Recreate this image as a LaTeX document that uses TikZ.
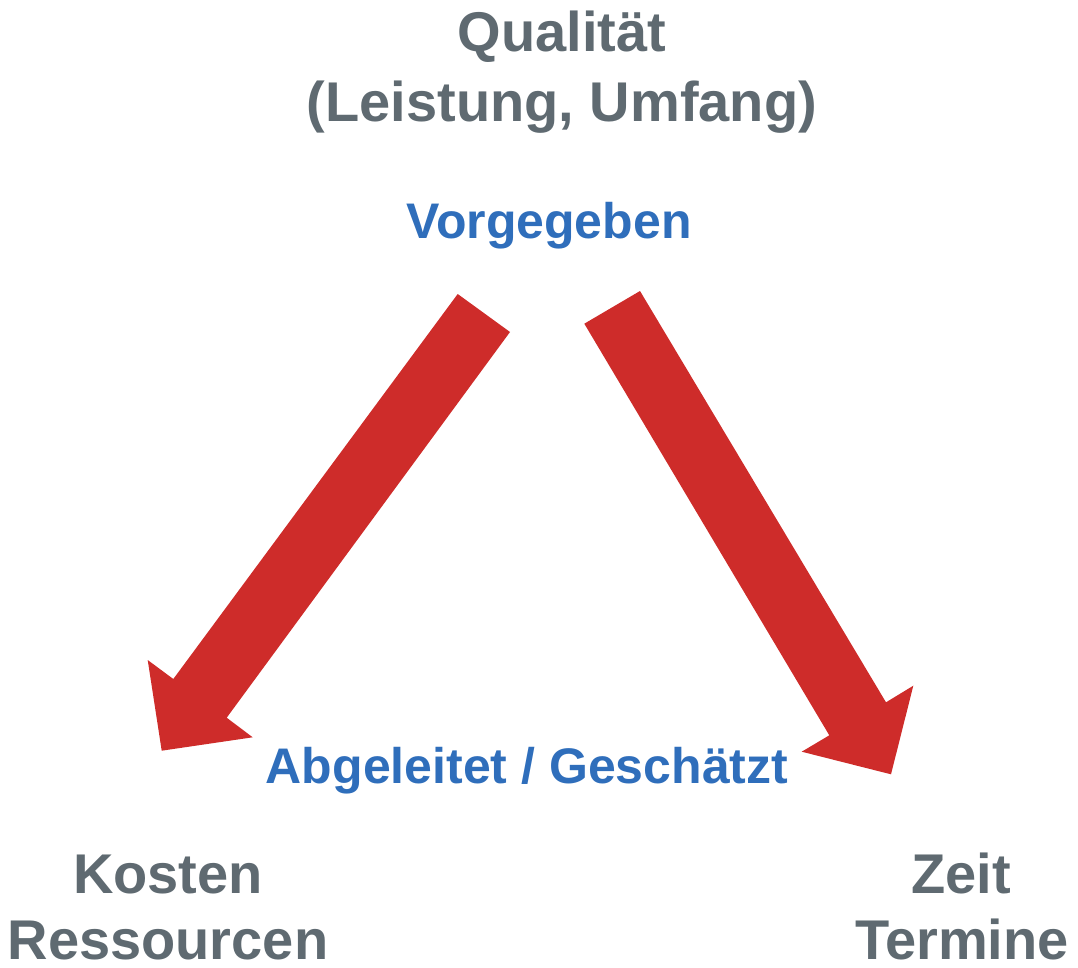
\documentclass[tikz,border=0pt]{standalone}
\usepackage{fontspec}
\setmainfont{Liberation Sans}
\definecolor{labelgray}{HTML}{5F6A71}
\definecolor{labelblue}{HTML}{2F6EBB}
\definecolor{arrowred}{HTML}{CE2C2A}
\begin{document}
\begin{tikzpicture}[x=1pt,y=-1pt,
  graylabel/.style={anchor=base,inner sep=0pt,text=labelgray,font=\fontsize{56}{70}\selectfont\bfseries},
  bluelabel/.style={anchor=base,inner sep=0pt,text=labelblue,font=\fontsize{50}{60}\selectfont\bfseries},
  bigarrow/.style={fill=arrowred,draw=none}]
\useasboundingbox (0,0) rectangle (1078,968);
\node[graylabel] (q1) at (562,52) {Qualität};
\node[graylabel] (q2) at (562,122) {(Leistung, Umfang)};
\node[bluelabel] (vor) at (549,239) {Vorgegeben};
\node[bluelabel] (abg) at (527,783) {Abgeleitet / Geschätzt};
\node[graylabel] (k1) at (168,893) {Kosten};
\node[graylabel,text depth=0pt] (k2) at (168,959) {Ressourcen};
\node[graylabel] (z1) at (961,893) {Zeit};
\node[graylabel,text depth=0pt] (z2) at (962,959) {Termine};
\fill[bigarrow] (457.7,294) -- (510,332) -- (226.7,717.7) -- (252.7,737.3) -- (161.7,750.7) -- (147.7,660) -- (173.3,679) -- cycle;
\fill[bigarrow] (640,291) -- (886,702.3) -- (913.3,685.7) -- (891,774.3) -- (801.7,751.7) -- (829.3,735.3) -- (584.3,323.7) -- cycle;
\end{tikzpicture}
\end{document}
